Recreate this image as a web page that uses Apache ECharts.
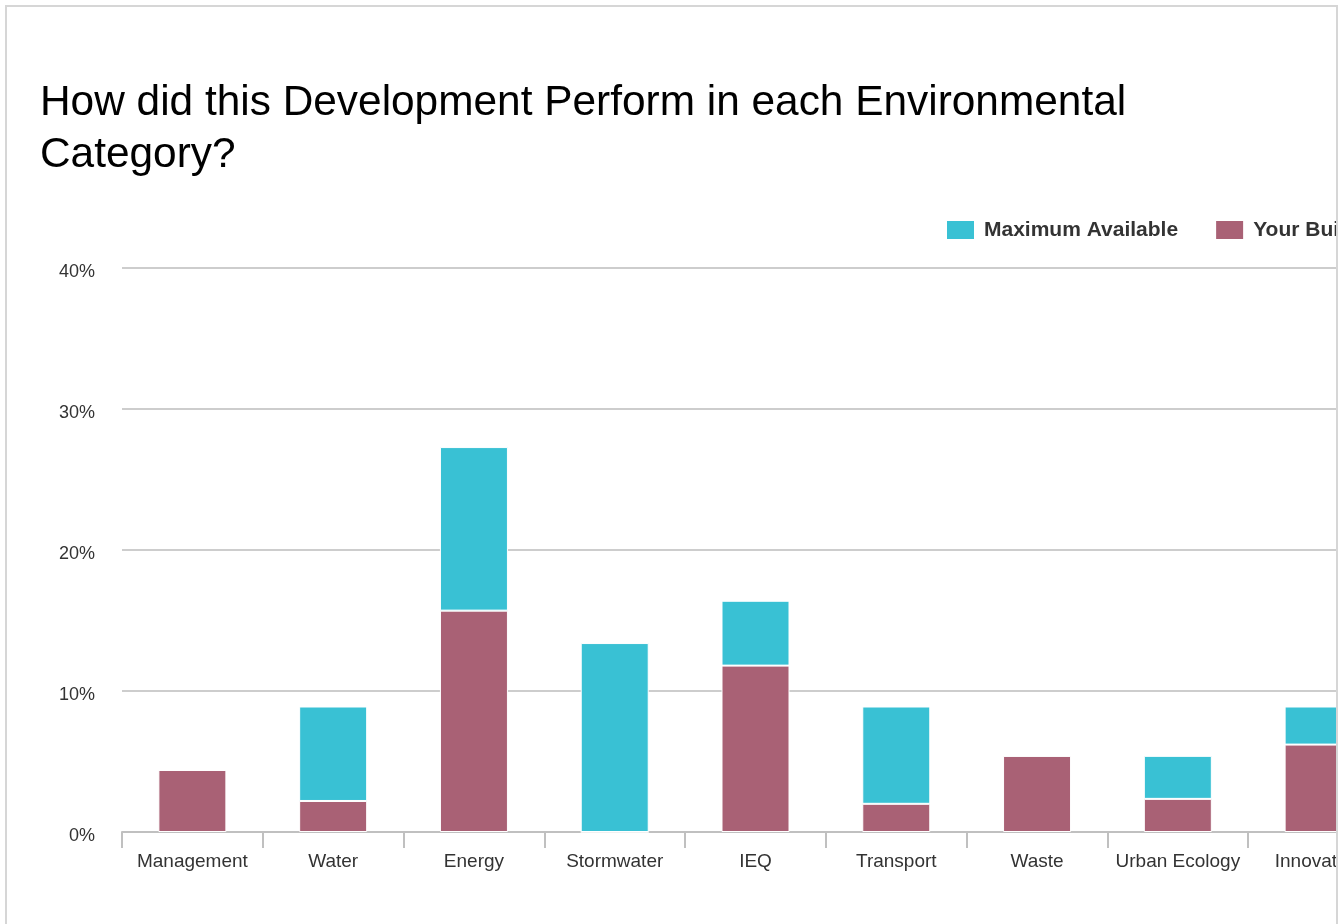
<!DOCTYPE html>
<html><head><meta charset="utf-8">
<script src="https://cdn.jsdelivr.net/npm/echarts@6/dist/echarts.min.js"></script>
<style>
html,body{margin:0;padding:0;background:#fff;overflow:hidden;width:1338px;height:924px;}
#frame{position:absolute;left:5px;top:5px;width:1329px;height:930px;border:2px solid #d6d6d6;border-bottom:none;overflow:hidden;background:#fff;}
#chart{position:absolute;left:0;top:0;width:1480px;height:917px;}
</style></head>
<body>
<div id="frame"><div id="chart"></div></div>
<script>
const categories = ["Management","Water","Energy","Stormwater","IEQ","Transport","Waste","Urban Ecology","Innovation"];
const yourBuilding = [4.4, 2.2, 15.7, 0, 11.8, 2.0, 5.4, 2.35, 6.2];
const maximumAvailable = [0, 6.7, 11.6, 13.4, 4.6, 6.9, 0, 3.05, 2.7];
const yTicks = [0, 10, 20, 30, 40];

const chart = echarts.init(document.getElementById('chart'), null, {renderer:'canvas'});
const font = "'Liberation Sans', Arial, Helvetica, sans-serif";
chart.setOption({
  animation:false,
  textStyle:{fontFamily:font},
  title:{
    text:"How did this Development Perform in each Environmental\nCategory?",
    left:28, top:65,
    textStyle:{fontSize:42.4, fontWeight:'normal', color:'#000', lineHeight:52, fontFamily:font}
  },
  legend:{
    left:933, top:207,
    itemWidth:29, itemHeight:20, itemGap:36,
    icon:'rect',
    data:["Maximum Available","Your Building"],
    textStyle:{fontSize:21, fontWeight:'bold', color:'#333', fontFamily:font, padding:[0,0,0,4]}
  },
  grid:{left:115, top:261, right:98, bottom:92, containLabel:false},
  xAxis:{
    type:'category', data:categories,
    axisLine:{lineStyle:{color:'#c0c0c0', width:2}},
    axisTick:{show:true, interval:0, length:16, lineStyle:{color:'#c0c0c0', width:2}},
    axisLabel:{interval:0, fontSize:19, color:'#333', margin:20, fontFamily:font}
  },
  yAxis:{
    type:'value', min:yTicks[0], max:yTicks[yTicks.length-1], interval:10,
    axisLine:{show:false}, axisTick:{show:false},
    splitLine:{lineStyle:{color:'#bdbdbd', width:1.5}},
    axisLabel:{fontSize:18, color:'#333', margin:27, formatter:'{value}%', fontFamily:font, verticalAlign:'top', lineHeight:8}
  },
  series:[
    {name:"Your Building", type:'bar', stack:'s', data:yourBuilding, barWidth:68,
     itemStyle:{color:'#a96175', borderColor:'#fff', borderWidth:1}},
    {name:"Maximum Available", type:'bar', stack:'s', data:maximumAvailable, barWidth:68,
     itemStyle:{color:'#39c1d4', borderColor:'#fff', borderWidth:1}}
  ]
});
</script>
</body></html>
